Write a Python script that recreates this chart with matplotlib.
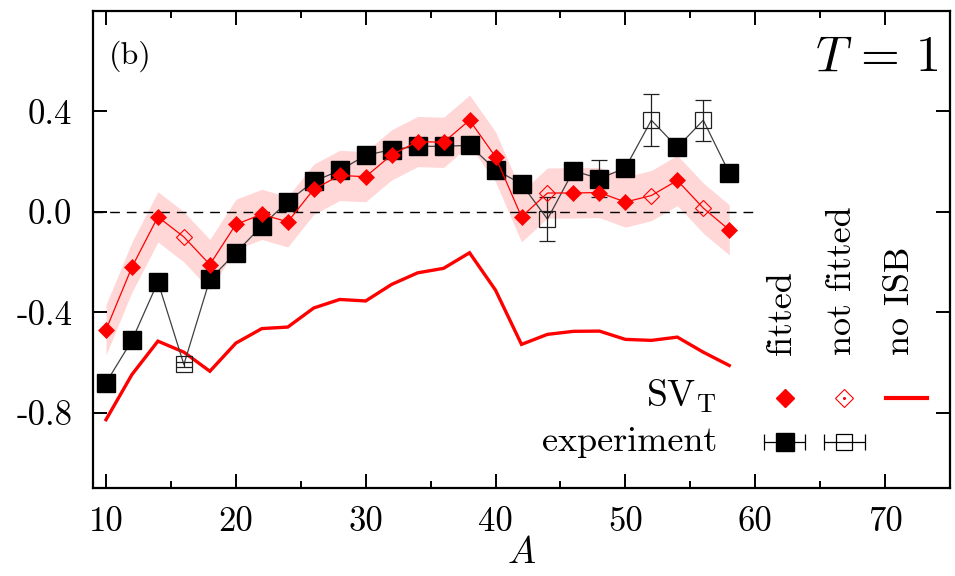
import numpy as np
import matplotlib
matplotlib.use("Agg")
import matplotlib.pyplot as plt
from matplotlib.ticker import MultipleLocator

plt.rcParams["font.family"] = "serif"
plt.rcParams["font.serif"] = ["cmr10"]
plt.rcParams["mathtext.fontset"] = "cm"
plt.rcParams["axes.unicode_minus"] = False

# Mass number A
mass_number = [10, 12, 14, 16, 18, 20, 22, 24, 26, 28, 30, 32, 34,
               36, 38, 40, 42, 44, 46, 48, 50, 52, 54, 56, 58]

# SV_T model values and whether each nucleus entered the fit
sv_t = [-0.47, -0.22, -0.02, -0.10, -0.21, -0.05, -0.01, -0.04, 0.09,
        0.145, 0.14, 0.227, 0.28, 0.277, 0.365, 0.219, -0.02, 0.075,
        0.075, 0.077, 0.039, 0.065, 0.125, 0.015, -0.072]
sv_t_fitted = [True, True, True, False, True, True, True, True, True,
               True, True, True, True, True, True, True, True, False,
               True, True, True, False, True, False, True]
sv_t_uncert = [0.1] * 25

# SV_T without isospin-symmetry breaking
no_isb = [-0.828, -0.648, -0.515, -0.559, -0.635, -0.523, -0.465, -0.459,
          -0.383, -0.349, -0.355, -0.289, -0.243, -0.225, -0.163, -0.312,
          -0.528, -0.488, -0.476, -0.475, -0.508, -0.512, -0.499, -0.559,
          -0.612]

# Experimental values with errors
experiment = [-0.681, -0.512, -0.279, -0.608, -0.269, -0.163, -0.056, 0.041,
              0.121, 0.165, 0.225, 0.248, 0.261, 0.261, 0.265, 0.168, 0.111,
              -0.029, 0.164, 0.132, 0.175, 0.365, 0.257, 0.365, 0.155]
experiment_err = [0.02, 0.02, 0.02, 0.01, 0.02, 0.02, 0.02, 0.02, 0.02,
                  0.02, 0.02, 0.02, 0.02, 0.02, 0.02, 0.02, 0.02, 0.089,
                  0.02, 0.073, 0.02, 0.103, 0.02, 0.082, 0.02]

x_ticks = [10, 20, 30, 40, 50, 60, 70]
y_ticks = [-0.8, -0.4, 0.0, 0.4]
y_tick_labels = ["-0.8", "-0.4", "0.0", "0.4"]

A = np.array(mass_number)
sv = np.array(sv_t)
fit = np.array(sv_t_fitted)
unc = np.array(sv_t_uncert)
exp_v = np.array(experiment)
exp_e = np.array(experiment_err)

RED = "#ff0000"
BAND = "#ffd7d7"

fig = plt.figure(figsize=(9.55, 5.76), dpi=100)
ax = fig.add_axes([93 / 955, (576 - 488) / 576, 857 / 955, 477 / 576])

# uncertainty band of the model
ax.fill_between(A, sv - unc, sv + unc, color=BAND, lw=0, zorder=1)

# zero reference
ax.plot([9, 60], [0, 0], color="black", lw=1.0, ls=(0, (7, 5)), zorder=2)

# no-ISB curve
ax.plot(A, no_isb, color=RED, lw=2.4, zorder=3, solid_joinstyle="miter")

# experiment
ax.plot(A, exp_v, color="#404040", lw=0.9, zorder=4)
ax.errorbar(A, exp_v, yerr=exp_e, fmt="none", ecolor="#202020",
            elinewidth=0.9, capsize=5.5, capthick=0.9, zorder=4)
ax.plot(A[fit], exp_v[fit], ls="none", marker="s", ms=12.5,
        mfc="black", mec="black", zorder=5)
ax.plot(A[~fit], exp_v[~fit], ls="none", marker="s", ms=12,
        mfc="none", mec="#202020", mew=0.9, zorder=5)

# SV_T model
ax.plot(A, sv, color=RED, lw=0.9, zorder=6)
ax.plot(A[fit], sv[fit], ls="none", marker="D", ms=8,
        mfc=RED, mec=RED, mew=0.5, zorder=7)
ax.plot(A[~fit], sv[~fit], ls="none", marker="D", ms=8,
        mfc="none", mec=RED, mew=0.8, zorder=7)

# key
hdr_y = -0.572
ax.text(62.1, hdr_y, "fitted", rotation=90, ha="center", va="bottom", fontsize=26)
ax.text(66.7, hdr_y, "not fitted", rotation=90, ha="center", va="bottom", fontsize=26)
ax.text(71.2, hdr_y, "no ISB", rotation=90, ha="center", va="bottom", fontsize=26)

row1, row2 = -0.74, -0.916
ax.text(57.05, -0.775, r"$\mathrm{SV}_\mathrm{T}$", ha="right", va="baseline", fontsize=27)
ax.text(57.05, -0.952, "experiment", ha="right", va="baseline", fontsize=26)

ax.plot([62.26], [row1], ls="none", marker="D", ms=9, mfc=RED, mec=RED)
ax.plot([66.87], [row1], ls="none", marker="D", ms=9, mfc="none", mec=RED, mew=0.8)
ax.plot([66.87], [row1], ls="none", marker="o", ms=1.2, mfc=RED, mec=RED)
ax.plot([70.1, 73.2], [row1, row1], color=RED, lw=3)

ax.errorbar([62.26], [row2], xerr=[1.55], fmt="s", ms=12.5, mfc="black",
            mec="black", ecolor="black", elinewidth=0.9, capsize=5.5, capthick=0.9)
ax.errorbar([66.87], [row2], xerr=[1.55], fmt="s", ms=12, mfc="none",
            mec="black", mew=0.9, ecolor="black", elinewidth=0.9, capsize=5.5,
            capthick=0.9)

# panel labels
ax.text(10.2, 0.62, "(b)", ha="left", va="center", fontsize=23)
ax.text(74.1, 0.56, r"$T\,=\,1$", ha="right", va="baseline", fontsize=36)

ax.set_xlim(9, 75)
ax.set_ylim(-1.1, 0.8)
ax.set_xticks(x_ticks)
ax.set_xticklabels([str(t) for t in x_ticks])
ax.xaxis.set_minor_locator(MultipleLocator(5))
ax.set_yticks(y_ticks)
ax.set_yticklabels(y_tick_labels)

ax.tick_params(which="both", direction="in", top=True, right=True,
               width=1.4, labelsize=25)
ax.tick_params(which="major", length=10)
ax.tick_params(which="minor", length=5)
ax.tick_params(axis="x", pad=13)
ax.tick_params(axis="y", pad=15)
for s in ax.spines.values():
    s.set_linewidth(1.6)

ax.set_xlabel(r"$A$", fontsize=27, labelpad=-1)

fig.savefig("out.png", dpi=100)
